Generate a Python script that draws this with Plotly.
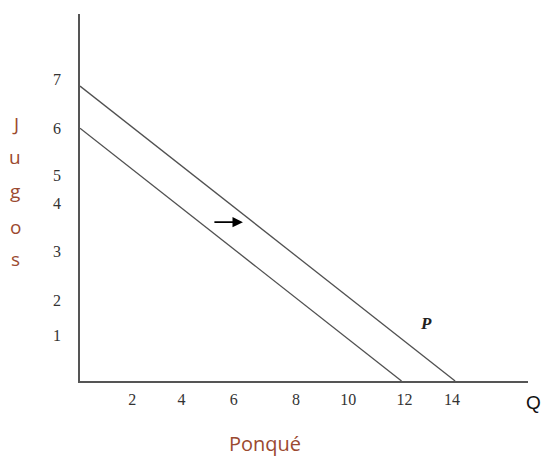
import plotly.graph_objects as go

# Data
q_original = [0, 12]
j_original = [6, 0]
q_shifted = [0, 14]
j_shifted = [7, 0]
x_tick_labels = ["2", "4", "6", "8", "10", "12", "14"]
y_tick_labels = ["1", "2", "3", "4", "5", "6", "7"]
arrow_start = (4.96, 3.77)
arrow_end = (6.08, 3.77)
label_p = (12.92, 1.37)

# where the hand-placed tick labels sit on the sketch
x_label_pos = [1.95, 3.79, 5.74, 8.06, 10.01, 12.11, 13.88]
y_label_pos = [1.09, 1.92, 3.07, 4.21, 4.89, 5.99, 7.15]

line_color = "#505050"
serif = "Liberation Serif"
brown = "#9b4a30"

# body margin is removed via post_script, so the figure fills the window
W, H = 542, 457
ml, mr, mt, mb = 80, W - 528, 14, H - 381
pw, ph = W - ml - mr, H - mt - mb


def px(x, y):
    return (x - ml) / pw, 1 - (y - mt) / ph


fig = go.Figure()
fig.add_trace(go.Scatter(x=q_original, y=j_original, mode="lines",
                         line=dict(color=line_color, width=1.3), showlegend=False, hoverinfo="skip"))
fig.add_trace(go.Scatter(x=q_shifted, y=j_shifted, mode="lines",
                         line=dict(color=line_color, width=1.3), showlegend=False, hoverinfo="skip"))

# arrow
fig.add_annotation(x=arrow_end[0], y=arrow_end[1], ax=arrow_start[0], ay=arrow_start[1],
                   xref="x", yref="y", axref="x", ayref="y", text="",
                   showarrow=True, arrowhead=2, arrowsize=1.3, arrowwidth=1.6, arrowcolor="black")
# P label
fig.add_annotation(x=label_p[0], y=label_p[1], xref="x", yref="y", text="<b><i>P</i></b>",
                   showarrow=False, font=dict(family=serif, size=17, color="#222"))


def text_at(x, y, text, font):
    xx, yy = px(x, y)
    fig.add_annotation(x=xx, y=yy, xref="paper", yref="paper", text=text, showarrow=False,
                       xanchor="center", yanchor="middle", font=font)


text_at(533, 402, "Q", dict(family="Liberation Sans", size=19, color="#111"))
text_at(265, 443, "Ponqué", dict(family="Open Sans", size=20, color=brown))
for ch, yy in zip("Jugos", [124, 157, 191, 227, 259]):
    text_at(15, yy, ch, dict(family="Open Sans", size=19, color=brown))

fig.update_layout(
    width=W, height=H,
    margin=dict(l=ml, r=mr, t=mt, b=mb),
    plot_bgcolor="white", paper_bgcolor="white",
    xaxis=dict(range=[0, 16.72], showgrid=False, zeroline=False, showline=True,
               linecolor="#555", linewidth=1.5, tickvals=x_label_pos, ticktext=x_tick_labels,
               ticks="outside", ticklen=3, tickcolor="rgba(0,0,0,0)",
               tickfont=dict(family=serif, size=16, color="#333")),
    yaxis=dict(range=[0, 8.71], showgrid=False, zeroline=False, showline=True,
               linecolor="#555", linewidth=1.5, tickvals=y_label_pos, ticktext=y_tick_labels,
               ticks="outside", ticklen=14, tickcolor="rgba(0,0,0,0)",
               tickfont=dict(family=serif, size=16, color="#333")),
)

fig.write_html("out.html", config={"displayModeBar": False},
               post_script="document.body.style.margin='0';document.body.style.overflow='hidden';")
